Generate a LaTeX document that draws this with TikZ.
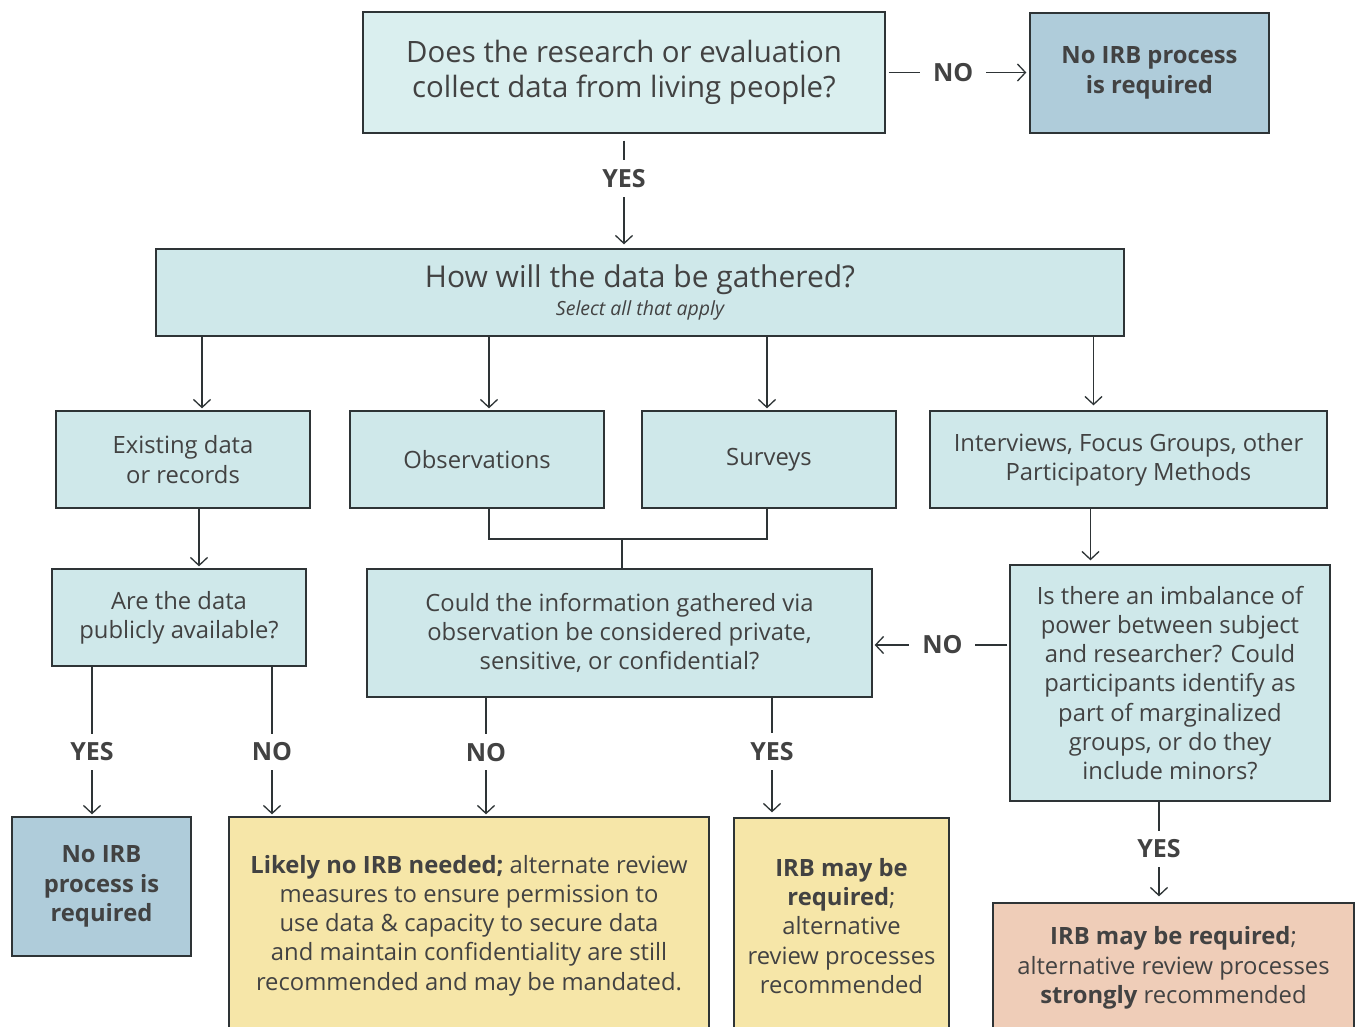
\documentclass[tikz,border=0pt]{standalone}
\usepackage{fontspec}
\setmainfont{Open Sans}
\usetikzlibrary{arrows.meta}

\definecolor{inkgray}{HTML}{424242}
\definecolor{lineink}{HTML}{2E3436}
\definecolor{topteal}{HTML}{DAEFEF}
\definecolor{paleteal}{HTML}{CFE8EA}
\definecolor{irbblue}{HTML}{AFCCDA}
\definecolor{sandyellow}{HTML}{F6E6A8}
\definecolor{peach}{HTML}{EFCDB8}

\tikzset{
    box/.style={draw=lineink, line width=1.3pt, fill=paleteal, text=inkgray,
        align=center, inner sep=0pt, font=\fontsize{23.8}{29.3}\selectfont},
    bluebox/.style={box, fill=irbblue, font=\bfseries\fontsize{23.8}{29.5}\selectfont},
    arr/.style={draw=lineink, line width=1.3pt, -{Straight Barb[length=8pt,width=17pt]}},
    conn/.style={draw=lineink, line width=1.3pt},
    lbl/.style={fill=white, text=inkgray, inner xsep=13pt, inner ysep=9pt,
        font=\bfseries\fontsize{25}{28}\selectfont}
}

\begin{document}
\begin{tikzpicture}[x=1pt,y=-1pt]
    \clip (0,0) rectangle (1358,1026);
    \fill[white] (0,0) rectangle (1358,1026);

    % questions
    \node[box, fill=topteal, minimum width=522pt, minimum height=121pt,
        font=\fontsize{29.4}{35}\selectfont] (live) at (624,72.5)
        {Does the research or evaluation\\collect data from living people?};
    \node[bluebox, minimum width=239pt, minimum height=120pt] (noirbtop) at (1149.5,73)
        {No IRB process\\is required};
    \node[box, minimum width=968pt, minimum height=87pt] (gather) at (640,292.5)
        {{\fontsize{30}{33}\selectfont How will the data be gathered?}\\[-2pt]
         {\itshape\fontsize{19.5}{21}\selectfont Select all that apply}};

    % methods
    \node[box, minimum width=254pt, minimum height=97pt] (existing) at (183,459.5)
        {Existing data\\or records};
    \node[box, minimum width=254pt, minimum height=97pt] (observ) at (477,459.5)
        {Observations};
    \node[box, minimum width=254pt, minimum height=97pt] (surveys) at (769,459.5)
        {Surveys};
    \node[box, minimum width=397pt, minimum height=97pt] (interviews) at (1128.5,459.5)
        {Interviews, Focus Groups, other\\Participatory Methods};

    % follow-up questions
    \node[box, minimum width=254pt, minimum height=97pt] (public) at (179,617.5)
        {Are the data\\publicly available?};
    \node[box, minimum width=505pt, minimum height=128pt] (private) at (619.5,633)
        {Could the information gathered via\\observation be considered private,\\sensitive, or confidential?};
    \node[box, minimum width=320pt, minimum height=236pt] (power) at (1170,683)
        {Is there an imbalance of\\power between subject\\and researcher? Could\\participants identify as\\part of marginalized\\groups, or do they\\include minors?};

    % outcomes
    \node[bluebox, minimum width=179pt, minimum height=139pt] (noirb) at (101.5,886.5)
        {No IRB\\process is\\required};
    \node[box, fill=sandyellow, minimum width=480pt, minimum height=217pt] (likely) at (469,925.5)
        {\textbf{Likely no IRB needed;} alternate review\\measures to ensure permission to\\use data \& capacity to secure data\\and maintain confidentiality are still\\recommended and may be mandated.};
    \node[box, fill=sandyellow, minimum width=215pt, minimum height=216pt] (maybe) at (841.5,926)
        {\textbf{IRB may be}\\\textbf{required};\\alternative\\review processes\\recommended};
    \node[box, fill=peach, minimum width=361pt, minimum height=130pt] (strongly) at (1173.5,968)
        {\textbf{IRB may be required};\\alternative review processes\\\textbf{strongly} recommended};

    % connectors
    \draw[arr, shorten <=3pt, shorten >=3pt] (live.east) -- node[lbl, pos=0.47] {NO} (live.east -| noirbtop.west);
    \draw[arr, shorten <=7pt, shorten >=4pt] (live.south) -- node[lbl, pos=0.39] {YES} (live.south |- gather.north);

    \draw[arr, shorten >=2pt] ([xshift=19pt]existing.north |- gather.south) -- ([xshift=19pt]existing.north);
    \draw[arr, shorten >=2pt] ([xshift=12pt]observ.north |- gather.south) -- ([xshift=12pt]observ.north);
    \draw[arr, shorten >=2pt] ([xshift=-2pt]surveys.north |- gather.south) -- ([xshift=-2pt]surveys.north);
    \draw[arr, shorten >=5pt] ([xshift=-35pt]interviews.north |- gather.south) -- ([xshift=-35pt]interviews.north);

    \coordinate (join) at (622,539);
    \draw[conn] ([xshift=12pt]observ.south) |- (join) -| ([xshift=-2pt]surveys.south);
    \draw[conn] (join) -- (join |- private.north);

    \draw[arr, shorten >=2pt] ([xshift=16pt]existing.south) -- ([xshift=16pt]existing.south |- public.north);
    \draw[arr, shorten >=4pt] ([xshift=-38pt]interviews.south) -- ([xshift=-38pt]interviews.south |- power.north);

    \draw[arr, shorten <=2pt, shorten >=2pt] ([yshift=-12pt]private.east -| power.west) -- node[lbl, pos=0.49] {NO} ([yshift=-12pt]private.east);

    \draw[arr, shorten >=2pt] ([xshift=-9.5pt]noirb.north |- public.south) -- node[lbl, pos=0.57] {YES} ([xshift=-9.5pt]noirb.north);
    \draw[arr, shorten >=2pt] ([xshift=93pt]public.south) -- node[lbl, pos=0.57] {NO} ([xshift=93pt]public.south |- likely.north);
    \draw[arr, shorten >=2pt] ([xshift=17pt]likely.north |- private.south) -- node[lbl, pos=0.46] {NO} ([xshift=17pt]likely.north);
    \draw[arr, shorten >=5pt] ([xshift=152.5pt]private.south) -- node[lbl, pos=0.45] {YES} ([xshift=152.5pt]private.south |- maybe.north);
    \draw[arr, shorten >=6pt] ([xshift=-11pt]power.south) -- node[lbl, pos=0.47] {YES} ([xshift=-11pt]power.south |- strongly.north);
\end{tikzpicture}
\end{document}
